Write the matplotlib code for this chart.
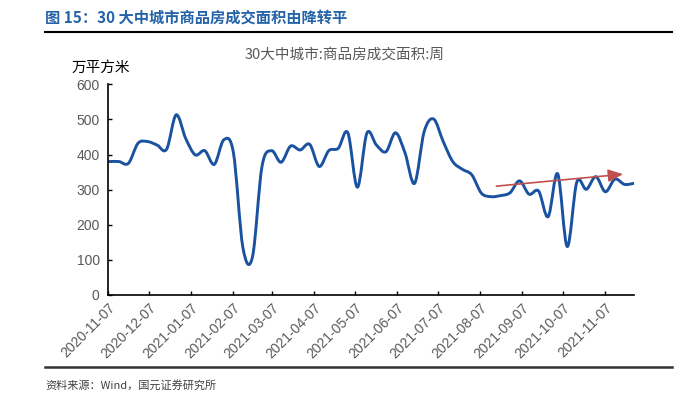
import numpy as np
import pandas as pd
import matplotlib
matplotlib.use("Agg")
import matplotlib.pyplot as plt
import matplotlib.dates as mdates
from matplotlib.path import Path
from matplotlib.patches import PathPatch

plt.rcParams['font.family'] = ['Noto Sans CJK SC', 'DejaVu Sans']

# weekly data, 30 large & mid cities, transaction area (10k m2)
dates = pd.date_range('2020-11-08', periods=56, freq='7D')
area = [380, 380, 375, 432, 437, 427, 415, 513, 446, 399,
        411, 372, 442, 406, 135, 108, 366, 411, 378, 424,
        413, 429, 366, 411, 418, 462, 307, 461, 427, 408,
        462, 404, 318, 465, 501, 437, 380, 358, 342, 290,
        280, 283, 291, 325, 287, 296, 223, 345, 138, 321,
        301, 337, 294, 330, 315, 318]

tick_labels = ['2020-11-07', '2020-12-07', '2021-01-07', '2021-02-07', '2021-03-07',
               '2021-04-07', '2021-05-07', '2021-06-07', '2021-07-07', '2021-08-07',
               '2021-09-07', '2021-10-07', '2021-11-07']
yticks = [0, 100, 200, 300, 400, 500, 600]

arrow_start = ('2021-08-19', 310)
arrow_end = ('2021-11-20', 344)

fig = plt.figure(figsize=(6.87, 4.13), dpi=100)
ax = fig.add_axes([108/687, 1-295/413, (634-108)/687, (295-84.3)/413])

# smoothed line (bezier through every data point, like excel "smoothed line")
x = mdates.date2num(dates)
y = np.array(area, dtype=float)
pts = np.column_stack([x, y])
verts = [pts[0]]
codes = [Path.MOVETO]
n = len(pts)
for i in range(n - 1):
    p0 = pts[i - 1] if i > 0 else pts[i]
    p1 = pts[i]
    p2 = pts[i + 1]
    p3 = pts[i + 2] if i + 2 < n else pts[i + 1]
    c1 = p1 + (p2 - p0) / 6.0
    c2 = p2 - (p3 - p1) / 6.0
    verts += [c1, c2, p2]
    codes += [Path.CURVE4] * 3
ax.add_patch(PathPatch(Path(verts, codes), facecolor='none',
                       edgecolor='#1a52a0', lw=2.1, capstyle='round', joinstyle='round'))

ax.annotate('', xy=(mdates.date2num(pd.Timestamp(arrow_end[0])), arrow_end[1]),
            xytext=(mdates.date2num(pd.Timestamp(arrow_start[0])), arrow_start[1]),
            arrowprops=dict(arrowstyle='-|>,head_length=0.9,head_width=0.38',
                            color='#c0504d', lw=1.2, shrinkA=0, shrinkB=0))

tick_pos = mdates.date2num(pd.to_datetime(tick_labels))
ax.set_xlim(tick_pos[0], x[-1])
ax.set_ylim(0, 600)
ax.set_yticks(yticks)
ax.set_xticks(tick_pos)
ax.set_xticklabels(tick_labels, rotation=45, ha='right', rotation_mode='anchor',
                   color='#595959', fontsize=10, family=['Liberation Sans', 'DejaVu Sans'])
ax.set_yticklabels([str(v) for v in yticks], color='#595959', fontsize=10,
                   family=['Liberation Sans', 'DejaVu Sans'])
ax.tick_params(axis='both', direction='in', length=3, width=1, color='black', pad=6)
ax.tick_params(axis='x', pad=4)
for s in ['top', 'right']:
    ax.spines[s].set_visible(False)
for s in ['left', 'bottom']:
    ax.spines[s].set_linewidth(1.2)

# titles and frame lines
fig.text(45/687, 1-18/413, '图 15：30 大中城市商品房成交面积由降转平', color='#2463a8',
         fontsize=11, fontweight='bold', va='center', ha='left')
fig.add_artist(plt.Line2D([45/687, 672/687], [1-32/413, 1-32/413], color='black', lw=1.5))
fig.text(345/687, 1-55/413, '30大中城市:商品房成交面积:周', color='#595959',
         fontsize=10.5, va='center', ha='center')
fig.text(72/687, 1-68/413, '万平方米', color='black', fontsize=10.5, va='center', ha='left')
fig.add_artist(plt.Line2D([45/687, 672/687], [1-367/413, 1-367/413], color='#333333', lw=1.8))
fig.text(45/687, 1-385/413, '资料来源：Wind，国元证券研究所', color='#404040',
         fontsize=8, va='center', ha='left')

fig.savefig('out.png', dpi=100)
